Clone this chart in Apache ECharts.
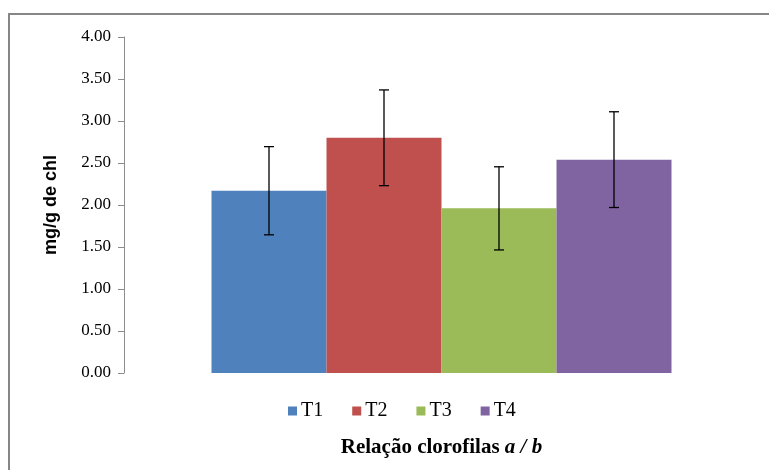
<!DOCTYPE html>
<html>
<head>
<meta charset="utf-8">
<script src="https://cdn.jsdelivr.net/npm/echarts@6/dist/echarts.min.js"></script>
<style>html,body{margin:0;padding:0;background:#fff}#c{width:769px;height:470px}</style>
</head>
<body>
<div id="c"></div>
<script>
var categories = ['Relação clorofilas a / b'];
var seriesNames = ['T1', 'T2', 'T3', 'T4'];
var means = [2.17, 2.80, 1.96, 2.54];
var errors = [0.525, 0.57, 0.495, 0.57];
var yTicks = { min: 0, max: 4, interval: 0.5 };
var colors = ['#4F81BD', '#C0504D', '#9BBB59', '#8064A2'];
var BAR_W = 115;

var chart = echarts.init(document.getElementById('c'), null, { renderer: 'canvas' });

var series = seriesNames.map(function (n, i) {
  return {
    name: n, type: 'bar', barWidth: BAR_W, barGap: '0%',
    itemStyle: { color: colors[i] },
    data: [means[i]],
    z: 2
  };
});

series.push({
  type: 'custom',
  z: 5,
  silent: true,
  data: means.map(function (m, i) { return [0, m - errors[i], m + errors[i], i]; }),
  renderItem: function (params, api) {
    var k = api.value(3);
    var lo = api.coord([api.value(0), api.value(1)]);
    var hi = api.coord([api.value(0), api.value(2)]);
    var x = lo[0] + (k - 1.5) * BAR_W;
    var cap = 5;
    var st = { stroke: '#000', lineWidth: 1.3 };
    return {
      type: 'group',
      children: [
        { type: 'line', shape: { x1: x, y1: lo[1], x2: x, y2: hi[1] }, style: st },
        { type: 'line', shape: { x1: x - cap, y1: lo[1], x2: x + cap, y2: lo[1] }, style: st },
        { type: 'line', shape: { x1: x - cap, y1: hi[1], x2: x + cap, y2: hi[1] }, style: st }
      ]
    };
  }
});

chart.setOption({
  animation: false,
  backgroundColor: '#fff',
  grid: { left: 124, right: 10, top: 37, bottom: 97 },
  graphic: [{
    type: 'rect', shape: { x: 9, y: 14, width: 800, height: 500 },
    style: { fill: 'none', stroke: '#868686', lineWidth: 2 }, z: -1
  }],
  legend: {
    data: seriesNames,
    left: 283, top: 396,
    icon: 'rect', itemWidth: 9, itemHeight: 9, itemGap: 29,
    textStyle: { fontFamily: 'Liberation Serif', fontSize: 20, color: '#000', padding: [0, 0, 0, -1] }
  },
  xAxis: {
    type: 'category', data: categories,
    axisLine: { show: false }, axisTick: { show: false }, axisLabel: { show: false },
    name: '{b|Relação clorofilas }{i|a / b}',
    nameLocation: 'middle', nameGap: 64,
    nameTextStyle: {
      rich: {
        b: { fontFamily: 'Liberation Serif', fontWeight: 'bold', fontSize: 21, color: '#000' },
        i: { fontFamily: 'Liberation Serif', fontWeight: 'bold', fontStyle: 'italic', fontSize: 21, color: '#000' }
      }
    }
  },
  yAxis: {
    type: 'value', min: yTicks.min, max: yTicks.max, interval: yTicks.interval,
    axisLine: { show: true, lineStyle: { color: '#8c8c8c', width: 1 } },
    axisTick: { show: true, length: 6, lineStyle: { color: '#8c8c8c' } },
    splitLine: { show: false },
    axisLabel: {
      margin: 13, fontFamily: 'Liberation Serif', fontSize: 17, color: '#000',
      formatter: function (v) { return v.toFixed(2); }
    },
    name: 'mg/g de chl', nameLocation: 'middle', nameGap: 64, nameRotate: 90,
    nameTextStyle: { fontFamily: 'Liberation Sans', fontWeight: 'bold', fontSize: 18, color: '#000' }
  },
  series: series
});
</script>
</body>
</html>
